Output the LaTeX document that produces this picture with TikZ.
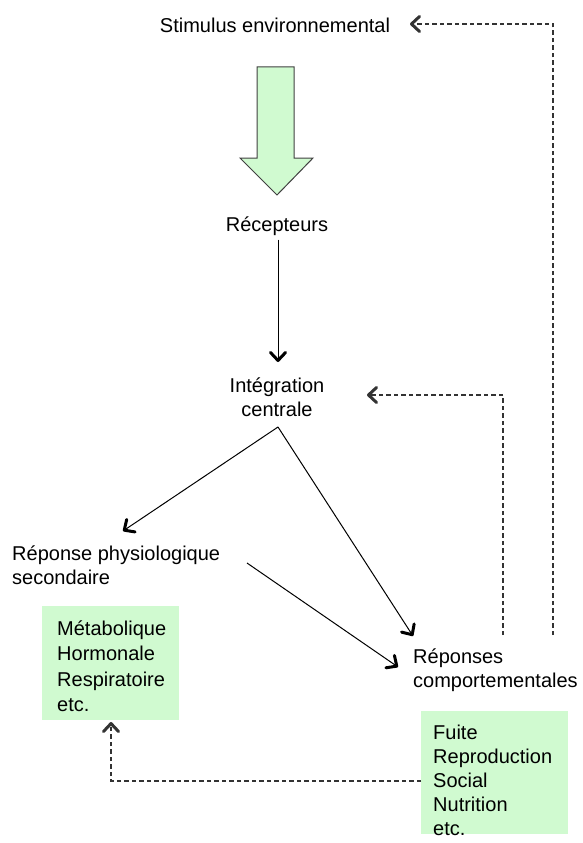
\documentclass[tikz,border=0pt]{standalone}
\usepackage{fontspec}
\setmainfont{Liberation Sans}
\usetikzlibrary{arrows.meta}
\definecolor{palegreen}{RGB}{208,250,208}
\definecolor{edgegray}{RGB}{64,64,64}
\definecolor{dashgray}{RGB}{51,51,51}
\begin{document}
\begin{tikzpicture}[x=1pt,y=-1pt,
  txt/.style={font=\fontsize{20}{24}\selectfont, inner sep=0pt},
  greenbox/.style={fill=palegreen, inner sep=0pt, anchor=north west},
  listtxt/.style={align=left, inner sep=0pt, anchor=base west},
  chevron/.style={-{Straight Barb[length=8pt,width=15pt,line width=3pt,round]}},
  flow/.style={chevron, line width=1pt, black},
  feedback/.style={chevron, line width=1.1pt, dashgray, dash pattern=on 4.5pt off 3pt}
]
\useasboundingbox (0,0) rectangle (582,843);

% labels
\node[txt] (stim) at (275,25) {Stimulus environnemental};
\node[txt] (recep) at (277,226) {Récepteurs};
\node[txt, align=center] (integ) at (277,397) {Intégration\\centrale};
\node[txt, align=left, anchor=west] (physio) at (12,565) {Réponse physiologique\\secondaire};
\node[txt, align=left, anchor=west] (comport) at (413,670) {Réponses\\comportementales};

% green lists
\node[greenbox, minimum width=137pt, minimum height=114pt] (physbox) at (42,606) {};
\node[listtxt, text width=115pt, font=\fontsize{20}{25.6}\selectfont]
  (physlist) at (57,635) {Métabolique\\Hormonale\\Respiratoire\\etc.};
\node[greenbox, minimum width=147pt, minimum height=123pt] (compbox) at (421,711) {};
\node[listtxt, text width=130pt, font=\fontsize{20}{24.2}\selectfont]
  (complist) at (433,739) {Fuite\\Reproduction\\Social\\Nutrition\\etc.};

% block arrow from the stimulus to the receptors
\draw[edgegray, fill=palegreen, line width=1pt]
  (257,67) -- (294,67) -- (294,158) -- (313,158) -- (277,195)
  -- (240,158) -- (257,158) -- cycle;

% anchor points of the connectors
\coordinate (integout) at (278,427);
\coordinate (physin) at (123,531);
\coordinate (compin) at (413,636);
\coordinate (physout) at (247,563);
\coordinate (compin2) at (398,667);
\coordinate (recepin) at (278,362);
\coordinate (stimin) at (410,24);
\coordinate (integin) at (367,395);
\coordinate (fb1) at (553,635);
\coordinate (fb2) at (503,635);
\coordinate (physlistin) at (111,722);

% solid flow
\draw[flow] (recep.south -| recepin) ++(0,4) -- (recepin);
\draw[flow] (integout) -- (physin);
\draw[flow] (integout) -- (compin);
\draw[flow] (physout) -- (compin2);

% feedback loops
\draw[feedback] (fb1) |- (stimin);
\draw[feedback] (fb2) |- (integin);
\draw[feedback] (compbox.west |- 0,781) -| (physlistin);
\end{tikzpicture}
\end{document}
